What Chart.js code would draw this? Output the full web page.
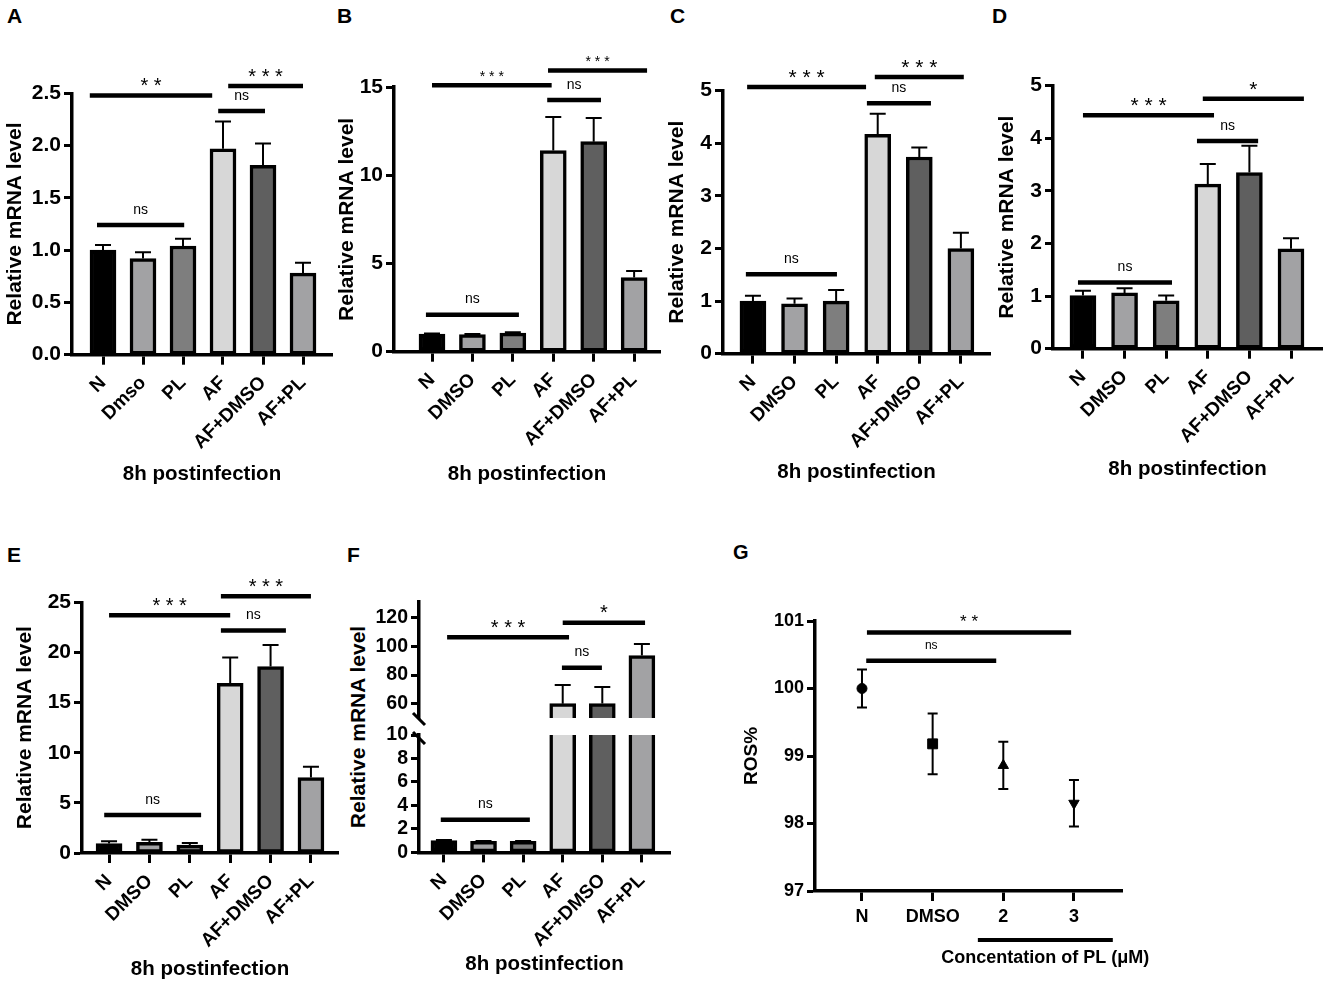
<!DOCTYPE html>
<html><head><meta charset="utf-8">
<script src="https://cdn.jsdelivr.net/npm/chart.js@4.4.1/dist/chart.umd.min.js"></script>
<style>
html,body{margin:0;padding:0;background:#fff;}
body{width:1325px;height:984px;overflow:hidden;position:relative;font-family:'Liberation Sans',Arial,Helvetica,sans-serif;color:#000;}
.letter{position:absolute;font-weight:bold;font-size:21px;line-height:21px;}
.vtitle{position:absolute;font-weight:bold;font-size:21px;line-height:25px;white-space:nowrap;transform:translate(-50%,-50%) rotate(-90deg);}
canvas{position:absolute;}
</style></head><body>
<div class="letter" style="left:7px;top:5px">A</div>
<div class="letter" style="left:337px;top:5px">B</div>
<div class="letter" style="left:670px;top:5px">C</div>
<div class="letter" style="left:992px;top:5px">D</div>
<div class="letter" style="left:7px;top:544px">E</div>
<div class="letter" style="left:347px;top:544px">F</div>
<div class="letter" style="left:733px;top:542px;font-size:20px">G</div>
<div class="vtitle" style="left:357px;top:727px">Relative mRNA level</div>
<script>
const FONT = "'Liberation Sans', Arial, Helvetica, sans-serif";

// ---------- data ----------
const groupsA = ['N', 'Dmso', 'PL', 'AF', 'AF+DMSO', 'AF+PL'];
const groups = ['N', 'DMSO', 'PL', 'AF', 'AF+DMSO', 'AF+PL'];
const barFills = ['#000000', '#a2a2a4', '#7e7e7e', '#d7d7d7', '#5f5f5f', '#a2a2a4'];

const valuesA = [1.00, 0.92, 1.04, 1.97, 1.81, 0.78];
const semA    = [0.05, 0.06, 0.07, 0.26, 0.21, 0.10];
const ticksA  = [0, 0.5, 1.0, 1.5, 2.0, 2.5];
const sigA = [[-0.33, 2.73, 2.48, '* *'], [3.13, 5.00, 2.57, '* * *'], [2.88, 4.05, 2.33, 'ns'], [-0.15, 2.03, 1.24, 'ns']];

const valuesB = [1.00, 0.97, 1.05, 11.40, 11.90, 4.20];
const semB    = [0.03, 0.03, 0.05, 1.90, 1.35, 0.38];
const ticksB  = [0, 5, 10, 15];
const sigB = [[0.00, 2.96, 15.10, '* * *'], [2.87, 5.32, 15.94, '* * *'], [2.85, 4.18, 14.26, 'ns'], [-0.15, 2.15, 2.10, 'ns']];

const valuesC = [1.00, 0.95, 1.00, 4.17, 3.74, 2.00];
const semC    = [0.10, 0.10, 0.21, 0.39, 0.18, 0.30];
const ticksC  = [0, 1, 2, 3, 4, 5];
const sigC = [[-0.14, 2.72, 5.07, '* * *'], [2.93, 5.07, 5.26, '* * *'], [2.74, 4.28, 4.76, 'ns'], [-0.17, 2.02, 1.51, 'ns']];

const valuesD = [1.01, 1.06, 0.91, 3.13, 3.35, 1.90];
const semD    = [0.09, 0.09, 0.10, 0.38, 0.51, 0.20];
const ticksD  = [0, 1, 2, 3, 4, 5];
const sigD = [[0.00, 3.15, 4.44, '* * *'], [2.88, 5.31, 4.75, '*'], [2.74, 4.21, 3.95, 'ns'], [-0.12, 2.14, 1.26, 'ns']];

const valuesE = [0.95, 1.06, 0.78, 16.93, 18.60, 7.53];
const semE    = [0.21, 0.26, 0.22, 2.57, 2.15, 1.07];
const ticksE  = [0, 5, 10, 15, 20, 25];
const sigE = [[0.00, 3.00, 23.7, '* * *'], [2.77, 5.00, 25.6, '* * *'], [2.77, 4.38, 22.2, 'ns'], [-0.12, 2.28, 3.8, 'ns']];

const valuesF = [1.00, 0.95, 0.95, 60.2, 60.3, 93.5];
const semF    = [0.05, 0.03, 0.03, 12.9, 11.4, 8.1];
const ticksFLow  = [0, 2, 4, 6, 8, 10];
const ticksFHigh = [60, 80, 100, 120];
const sigFHigh = [[0.08, 3.16, 106.2, '* * *'], [3.00, 5.08, 116.3, '*'], [2.98, 3.99, 85.1, 'ns']];
const sigFLow  = [[-0.08, 2.17, 2.78, 'ns']];

const groupsG  = ['N', 'DMSO', '2', '3'];
const valuesG  = [100.00, 99.18, 98.86, 98.30];
const semG     = [0.28, 0.45, 0.35, 0.345];
const markersG = ['circle', 'rect', 'triangle', 'triangle'];
const rotG     = [0, 0, 0, 180];
const ticksG   = [97, 98, 99, 100, 101];
const sigG = [[0.07, 2.96, 100.83, '* *'], [0.06, 1.90, 100.41, 'ns']];
const bracketG = {from: 1.64, to: 3.55, label: 'Concentation of PL (\u03bcM)'};

// ---------- helpers ----------
function makeCanvas(b) {
  const c = document.createElement('canvas');
  c.width = Math.round(b.w); c.height = Math.round(b.h);
  c.style.left = b.x + 'px'; c.style.top = b.y + 'px';
  c.style.width = Math.round(b.w) + 'px'; c.style.height = Math.round(b.h) + 'px';
  document.body.appendChild(c);
  return c;
}

function makeMarks(m) {
  return {
    id: 'marks',
    beforeDatasetsDraw(chart) {
      if (!m.values) return;
      const {ctx, chartArea: a, scales: {x, y}} = chart;
      ctx.save();
      ctx.beginPath(); ctx.rect(a.left - 30, a.top, a.right - a.left + 60, a.bottom - a.top); ctx.clip();
      ctx.strokeStyle = '#000'; ctx.lineWidth = m.errWidth || 2; ctx.lineCap = 'butt';
      m.values.forEach((v, i) => {
        const e = m.errors[i], px = x.getPixelForValue(i);
        const yTop = y.getPixelForValue(v + e);
        const yBot = y.getPixelForValue(m.both ? v - e : v);
        ctx.beginPath();
        ctx.moveTo(px, yBot); ctx.lineTo(px, yTop);
        ctx.moveTo(px - m.cap, yTop); ctx.lineTo(px + m.cap, yTop);
        if (m.both) { ctx.moveTo(px - m.cap, yBot); ctx.lineTo(px + m.cap, yBot); }
        ctx.stroke();
      });
      ctx.restore();
    },
    afterDraw(chart) {
      const {ctx, chartArea: a, scales: {x, y}} = chart;
      ctx.save();
      ctx.strokeStyle = '#000'; ctx.fillStyle = '#000';
      (m.sig || []).forEach(([x1, x2, yv, label]) => {
        const p1 = x.getPixelForValue(x1), p2 = x.getPixelForValue(x2), py = y.getPixelForValue(yv);
        ctx.lineWidth = 4.5; ctx.lineCap = 'butt';
        ctx.beginPath(); ctx.moveTo(p1, py); ctx.lineTo(p2, py); ctx.stroke();
        const isNs = label === 'ns';
        const size = isNs ? (m.nsSize || 14) : m.starSize;
        const gap = isNs ? 15 : (m.starGap || 14.5);
        const c = isNs ? 0.26 : 0.56;
        ctx.font = size + 'px ' + FONT;
        ctx.textAlign = 'center'; ctx.textBaseline = 'alphabetic';
        ctx.fillText(label, (p1 + p2) / 2, py - gap + c * size);
      });
      if (m.breakMarks) {
        ctx.lineWidth = 3;
        ctx.beginPath();
        ctx.moveTo(a.left - 6, a.bottom - 5); ctx.lineTo(a.left + 6, a.bottom + 7);
        ctx.moveTo(a.left - 6, a.bottom + 14); ctx.lineTo(a.left + 6, a.bottom + 26);
        ctx.stroke();
      }
      if (m.bracket) {
        const by = a.bottom + 49;
        const p1 = x.getPixelForValue(m.bracket.from), p2 = x.getPixelForValue(m.bracket.to);
        ctx.lineWidth = 4;
        ctx.beginPath(); ctx.moveTo(p1, by); ctx.lineTo(p2, by); ctx.stroke();
        ctx.font = 'bold 18px ' + FONT;
        ctx.textAlign = 'center'; ctx.textBaseline = 'middle';
        ctx.fillText(m.bracket.label, (p1 + p2) / 2, by + 18);
      }
      ctx.restore();
    }
  };
}

function gridOpts(len) {
  return {display: true, drawOnChartArea: false, drawTicks: true, tickLength: len, tickWidth: 3, tickColor: '#000', color: '#000', offset: false};
}
const borderOpts = {display: true, color: '#000', width: 3.5};

function barPanel(cfg) {
  const b = cfg.box, a = cfg.area;
  const Yw = a.l - b.x, Tpad = a.t - b.y, Rpad = b.x + b.w - a.r, Xh = b.y + b.h - a.b;
  const showX = cfg.showX !== false;
  const canvas = makeCanvas(b);
  return new Chart(canvas, {
    type: 'bar',
    data: {datasets: [{
      data: cfg.values.map((v, i) => ({x: i, y: v})),
      backgroundColor: barFills, borderColor: '#000', borderWidth: 3.5,
      borderSkipped: false, barThickness: 26, clip: cfg.clip === undefined ? false : cfg.clip
    }]},
    options: {
      responsive: false, animation: false, devicePixelRatio: 1,
      layout: {padding: {left: 0, top: Tpad, right: Rpad, bottom: showX ? 0 : Xh}},
      plugins: {legend: {display: false}, tooltip: {enabled: false}, title: {display: false}},
      scales: {
        x: {
          type: 'linear', min: cfg.xMin, max: cfg.xMax, offset: false, bounds: 'data', display: showX,
          afterBuildTicks: s => { s.ticks = cfg.cats.map((_, i) => ({value: i})); },
          afterFit: s => { s.height = showX ? Xh : 0; },
          ticks: {autoSkip: false, minRotation: 45, maxRotation: 45, padding: 7, color: '#000',
                  font: {family: FONT, size: 19, weight: 'bold'}, callback: v => cfg.cats[v]},
          grid: gridOpts(10), border: borderOpts,
          title: {display: !!cfg.xTitle, text: cfg.xTitle || '', color: '#000',
                  font: {family: FONT, size: 20.5, weight: 'bold'}, padding: {top: 0, bottom: 2}}
        },
        y: {
          min: cfg.yMin, max: cfg.yMax, bounds: 'data', beginAtZero: false,
          afterBuildTicks: s => { s.ticks = cfg.yTicks.map(v => ({value: v})); },
          afterFit: s => { s.width = Yw; },
          ticks: {autoSkip: false, color: '#000', padding: 3, font: {family: FONT, size: cfg.yTickSize || 21, weight: 'bold'},
                  callback: v => cfg.yFmt ? cfg.yFmt(v) : String(v)},
          grid: gridOpts(8), border: borderOpts,
          title: {display: !!cfg.yTitle, text: cfg.yTitle || '', color: '#000',
                  font: {family: FONT, size: 21, weight: 'bold'}, padding: {top: 2.4, bottom: 0}}
        }
      }
    },
    plugins: [makeMarks({values: cfg.values, errors: cfg.errors, cap: 8, sig: cfg.sig,
                         starSize: cfg.starSize, starGap: cfg.starGap, breakMarks: cfg.breakMarks})]
  });
}

const YT = 'Relative mRNA level', XT = '8h postinfection';

barPanel({box: {x: 0, y: 0, w: 335, h: 489.3}, area: {l: 72, t: 93.3, r: 332, b: 355},
  cats: groupsA, values: valuesA, errors: semA, xMin: -0.775, xMax: 5.725,
  yMin: 0, yMax: 2.5, yTicks: ticksA, yFmt: v => v.toFixed(1), sig: sigA, starSize: 20,
  yTitle: YT, xTitle: XT});

barPanel({box: {x: 332, y: 0, w: 331, h: 489.3}, area: {l: 394, t: 87, r: 660, b: 352},
  cats: groups, values: valuesB, errors: semB, xMin: -0.94, xMax: 5.64,
  yMin: 0, yMax: 15, yTicks: ticksB, sig: sigB, starSize: 14, starGap: 12.5,
  yTitle: YT, xTitle: XT});

barPanel({box: {x: 662, y: 0, w: 331, h: 487.3}, area: {l: 723, t: 90.7, r: 990, b: 354},
  cats: groups, values: valuesC, errors: semC, xMin: -0.72, xMax: 5.70,
  yMin: 0, yMax: 5, yTicks: ticksC, sig: sigC, starSize: 21,
  yTitle: YT, xTitle: XT});

barPanel({box: {x: 992, y: 0, w: 333, h: 484.3}, area: {l: 1053, t: 85.7, r: 1322, b: 349},
  cats: groups, values: valuesD, errors: semD, xMin: -0.72, xMax: 5.745,
  yMin: 0, yMax: 5, yTicks: ticksD, sig: sigD, starSize: 21,
  yTitle: YT, xTitle: XT});

barPanel({box: {x: 10, y: 500, w: 331, h: 484.3}, area: {l: 82, t: 602.3, r: 338, b: 853.3},
  cats: groups, values: valuesE, errors: semE, xMin: -0.67, xMax: 5.67,
  yMin: 0, yMax: 25, yTicks: ticksE, sig: sigE, starSize: 20,
  yTitle: YT, xTitle: XT});

// F: broken axis drawn as two stacked charts sharing the same data
barPanel({box: {x: 340, y: 500, w: 333, h: 245}, area: {l: 419, t: 601.7, r: 670, b: 718},
  cats: groups, values: valuesF, errors: semF, xMin: -0.63, xMax: 5.71, showX: false,
  yMin: 50.3, yMax: 130.8, yTicks: ticksFHigh, yTickSize: 19.5, sig: sigFHigh, starSize: 20,
  clip: 0, breakMarks: true});

barPanel({box: {x: 340, y: 720, w: 333, h: 259.3}, area: {l: 419, t: 735, r: 670, b: 852.7},
  cats: groups, values: valuesF, errors: semF, xMin: -0.63, xMax: 5.71,
  yMin: 0, yMax: 10, yTicks: ticksFLow, yTickSize: 19.5, sig: sigFLow, starSize: 20,
  clip: 0, xTitle: XT});

// G: scatter with error bars
(function () {
  const b = {x: 738, y: 530, w: 422, h: 454}, a = {l: 815, t: 621, r: 1122, b: 891};
  const Yw = a.l - b.x, Tpad = a.t - b.y, Rpad = b.x + b.w - a.r, Xh = b.y + b.h - a.b;
  new Chart(makeCanvas(b), {
    type: 'scatter',
    data: {datasets: [{
      data: valuesG.map((v, i) => ({x: i, y: v})),
      pointStyle: markersG, rotation: rotG, pointRadius: [5, 7, 6, 6],
      backgroundColor: '#000', borderColor: '#000', borderWidth: 1, showLine: false
    }]},
    options: {
      responsive: false, animation: false, devicePixelRatio: 1,
      layout: {padding: {left: 0, top: Tpad, right: Rpad, bottom: 0}},
      plugins: {legend: {display: false}, tooltip: {enabled: false}},
      scales: {
        x: {
          type: 'linear', min: -0.665, max: 3.68, offset: false, bounds: 'data',
          afterBuildTicks: s => { s.ticks = groupsG.map((_, i) => ({value: i})); },
          afterFit: s => { s.height = Xh; },
          ticks: {autoSkip: false, minRotation: 0, maxRotation: 0, padding: 5, color: '#000',
                  font: {family: FONT, size: 18, weight: 'bold'}, callback: v => groupsG[v]},
          grid: gridOpts(10), border: borderOpts
        },
        y: {
          min: 97, max: 101, bounds: 'data',
          afterBuildTicks: s => { s.ticks = ticksG.map(v => ({value: v})); },
          afterFit: s => { s.width = Yw; },
          ticks: {autoSkip: false, color: '#000', padding: 3, font: {family: FONT, size: 18, weight: 'bold'}},
          grid: gridOpts(8), border: borderOpts,
          title: {display: true, text: 'ROS%', color: '#000', font: {family: FONT, size: 19, weight: 'bold'},
                  padding: {top: 2.4, bottom: 0}}
        }
      }
    },
    plugins: [makeMarks({values: valuesG, errors: semG, both: true, cap: 5, sig: sigG,
                         starSize: 17, nsSize: 12, bracket: bracketG})]
  });
})();
</script>
</body></html>
